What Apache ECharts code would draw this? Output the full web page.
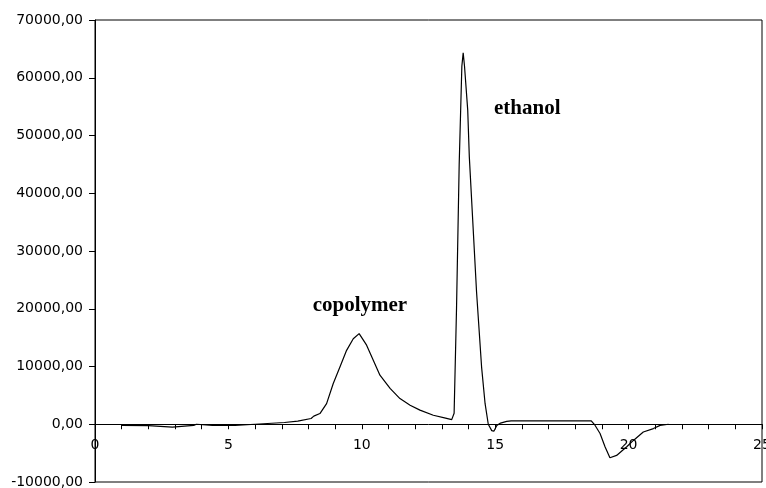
<!DOCTYPE html>
<html>
<head>
<meta charset="utf-8">
<script src="https://cdn.jsdelivr.net/npm/echarts@6/dist/echarts.min.js"></script>
<style>
  html, body { margin: 0; padding: 0; background: #fff; }
  #chart { width: 766px; height: 488px; }
</style>
</head>
<body>
<div id="chart"></div>
<script>
// retention time (x) and detector signal (y)
var time = [1.0, 2.0, 2.05, 2.9, 2.95, 3.7, 3.8, 4.4, 5.25, 5.3, 6.0, 6.05, 7.1, 7.15, 7.6, 7.65, 8.1, 8.2, 8.43, 8.68,
  8.93, 9.18, 9.43, 9.68, 9.9, 10.18, 10.43, 10.68, 11.06, 11.43, 11.81, 12.18, 12.68, 13.1, 13.37, 13.46,
  13.55, 13.65, 13.75, 13.8, 13.85, 13.97, 14.03, 14.3, 14.49, 14.62, 14.74, 14.87, 14.95, 15.06, 15.2, 15.43,
  15.6, 18.6, 18.74, 18.93, 19.12, 19.3, 19.55, 19.93, 20.18, 20.55, 20.93, 21.18, 21.5];
var signal = [-200, -250, -500, -500, -250, -200, 0, -200, -200, 0, 0, 250, 300, 500, 550, 800, 1000, 1400, 1850, 3580,
  7050, 9930, 12800, 14800, 15700, 13700, 11100, 8500, 6200, 4450, 3300, 2450, 1560, 1100, 800, 1900,
  20000, 45000, 62000, 64300, 62000, 54400, 46300, 23000, 9900, 3600, 0, -1100, -1200, -200, 200, 500,
  600, 600, -170, -1610, -3930, -5800, -5400, -3900, -2800, -1350, -750, -200, 0];

// peak labels
var peakNames = ['copolymer', 'ethanol'];
var peakLabelPos = [[9.93, 20500], [16.2, 54700]];

var yMin = -10000, yMax = 70000;
var gridTop = 20, gridBottom = 6, chartHeight = 488;

var myChart = echarts.init(document.getElementById('chart'));

var points = [];
for (var i = 0; i < time.length; i++) {
  points.push([time[i], signal[i]]);
}

var marks = [];
peakNames.forEach(function (name, i) {
  marks.push({ name: name, coord: peakLabelPos[i] });
});

// x axis sits on the zero line: shift it up from the bottom of the grid
var plotH = chartHeight - gridTop - gridBottom;
var zeroShift = plotH * (0 - yMin) / (yMax - yMin);

var option = {
  animation: false,
  backgroundColor: '#fff',
  grid: {
    left: 95,
    right: 4,
    top: gridTop,
    bottom: gridBottom,
    containLabel: false,
    outerBoundsMode: 'none',
    show: true,
    borderColor: '#000',
    borderWidth: 1
  },
  xAxis: {
    type: 'value',
    position: 'bottom',
    offset: -zeroShift,
    min: 0,
    max: 25,
    interval: 1,
    axisLine: { onZero: false, lineStyle: { color: '#000', width: 1 } },
    axisTick: { show: true, length: 5, lineStyle: { color: '#000' } },
    splitLine: { show: false },
    axisLabel: {
      color: '#000',
      fontFamily: 'DejaVu Sans',
      fontSize: 14,
      margin: 14,
      showMinLabel: true,
      showMaxLabel: true,
      formatter: function (v) {
        return v % 5 === 0 ? String(v) : '';
      }
    }
  },
  yAxis: {
    type: 'value',
    min: yMin,
    max: yMax,
    interval: 10000,
    axisLine: { show: true, lineStyle: { color: '#000', width: 1 } },
    axisTick: { show: true, length: 6, lineStyle: { color: '#000' } },
    splitLine: { show: false },
    axisLabel: {
      color: '#000',
      fontFamily: 'DejaVu Sans',
      fontSize: 14,
      margin: 12,
      formatter: function (v) {
        return v.toFixed(2).replace('.', ',');
      }
    }
  },
  series: [{
    type: 'line',
    data: points,
    symbol: 'none',
    lineStyle: { color: '#000', width: 1.2 },
    markPoint: {
      symbol: 'circle',
      symbolSize: 0,
      label: {
        show: true,
        position: 'inside',
        formatter: '{b}',
        color: '#000',
        fontFamily: 'Liberation Serif',
        fontWeight: 'bold',
        fontSize: 21
      },
      data: marks
    }
  }]
};

myChart.setOption(option);
</script>
</body>
</html>
